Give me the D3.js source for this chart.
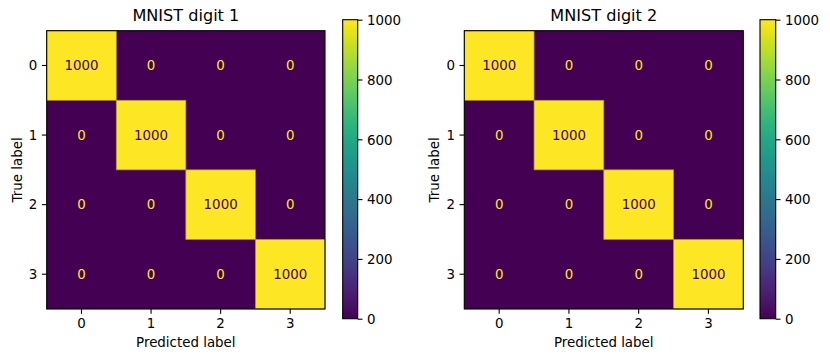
<!DOCTYPE html>
<html>
<head>
<meta charset="utf-8">
<script src="https://cdn.jsdelivr.net/npm/d3@7"></script>
<style>
  html, body { margin: 0; padding: 0; background: #fff; }
  svg { display: block; font-family: "DejaVu Sans", sans-serif; }
</style>
</head>
<body>
<svg id="chart" width="830" height="361"></svg>
<script>
// ---- data ----
const labels = ["0", "1", "2", "3"];
const titles = ["MNIST digit 1", "MNIST digit 2"];
const matrix1 = [
  [1000, 0, 0, 0],
  [0, 1000, 0, 0],
  [0, 0, 1000, 0],
  [0, 0, 0, 1000]
];
const matrix2 = [
  [1000, 0, 0, 0],
  [0, 1000, 0, 0],
  [0, 0, 1000, 0],
  [0, 0, 0, 1000]
];
const colorbarTicks = [0, 200, 400, 600, 800, 1000];
const matrices = [matrix1, matrix2];

// ---- layout ----
const svg = d3.select("#chart");
const panels = [
  { ax: [46.7, 325.0], cb: [342.7, 357.7] },
  { ax: [464.3, 743.3], cb: [760.0, 775.7] }
];
const axTop = 30.7, axBottom = 309.0;
const cbTop = 19.7, cbBottom = 318.7;
const tickFont = 13.4, titleFont = 16.1;

const color = d3.scaleSequential(d3.interpolateViridis).domain([0, 1000]);

// gradient for colorbar
const defs = svg.append("defs");
const grad = defs.append("linearGradient").attr("id", "viridisGrad")
  .attr("x1", 0).attr("y1", 1).attr("x2", 0).attr("y2", 0);
d3.range(0, 1.0001, 0.02).forEach(t => {
  grad.append("stop").attr("offset", t).attr("stop-color", d3.interpolateViridis(t));
});

panels.forEach((p, pi) => {
  const data = matrices[pi];
  const x = d3.scaleBand().domain(labels).range(p.ax).padding(0);
  const y = d3.scaleBand().domain(labels).range([axTop, axBottom]).padding(0);
  const g = svg.append("g");

  const cells = [];
  data.forEach((row, i) => row.forEach((v, j) => cells.push({ r: labels[i], c: labels[j], v })));

  // background of lowest colour so that adjacent cells show no seams
  g.append("rect")
    .attr("x", p.ax[0]).attr("y", axTop)
    .attr("width", p.ax[1] - p.ax[0]).attr("height", axBottom - axTop)
    .attr("fill", color(0));

  g.selectAll("rect.cell").data(cells.filter(d => d.v > 0)).join("rect")
    .attr("class", "cell")
    .attr("x", d => x(d.c)).attr("y", d => y(d.r))
    .attr("width", x.bandwidth()).attr("height", y.bandwidth())
    .attr("fill", d => color(d.v))
    .attr("stroke", "#a89a3a").attr("stroke-width", 0.7);

  g.selectAll("text.val").data(cells).join("text")
    .attr("class", "val")
    .attr("x", d => x(d.c) + x.bandwidth() / 2)
    .attr("y", d => y(d.r) + y.bandwidth() / 2)
    .attr("dy", "0.36em")
    .attr("text-anchor", "middle")
    .attr("font-size", tickFont)
    .attr("fill", d => d.v > 500 ? d3.interpolateViridis(0) : d3.interpolateViridis(1))
    .text(d => d.v);

  // frame
  g.append("rect")
    .attr("x", p.ax[0]).attr("y", axTop)
    .attr("width", p.ax[1] - p.ax[0]).attr("height", axBottom - axTop)
    .attr("fill", "none").attr("stroke", "#000").attr("stroke-width", 1.1);

  // axes
  const xAxis = d3.axisBottom(x).tickSize(4.8).tickPadding(4.5);
  const gx = g.append("g").attr("transform", `translate(0,${axBottom})`).call(xAxis);
  const yAxis = d3.axisLeft(y).tickSize(4.8).tickPadding(4.5);
  const gy = g.append("g").attr("transform", `translate(${p.ax[0]},0)`).call(yAxis);
  [gx, gy].forEach(a => {
    a.select(".domain").remove();
    a.selectAll(".tick line").attr("stroke", "#000").attr("stroke-width", 1.1);
    a.selectAll(".tick text").attr("font-size", tickFont).attr("fill", "#000")
      .attr("font-family", "DejaVu Sans, sans-serif");
  });
  gy.selectAll(".tick text").attr("dy", "0.36em");
  gx.selectAll(".tick text").attr("dy", "0.76em");

  // title
  g.append("text")
    .attr("x", (p.ax[0] + p.ax[1]) / 2).attr("y", 21)
    .attr("text-anchor", "middle").attr("font-size", titleFont).attr("fill", "#000")
    .text(titles[pi]);

  // axis labels
  g.append("text")
    .attr("x", (p.ax[0] + p.ax[1]) / 2).attr("y", 347)
    .attr("text-anchor", "middle").attr("font-size", tickFont).attr("fill", "#000")
    .text("Predicted label");
  const ylx = p.ax[0] - 25.2;
  g.append("text")
    .attr("transform", `translate(${ylx},${(axTop + axBottom) / 2}) rotate(-90)`)
    .attr("text-anchor", "middle").attr("font-size", tickFont).attr("fill", "#000")
    .text("True label");

  // colorbar
  const cy = d3.scaleLinear().domain([0, 1000]).range([cbBottom, cbTop]);
  g.append("rect")
    .attr("x", p.cb[0]).attr("y", cbTop)
    .attr("width", p.cb[1] - p.cb[0]).attr("height", cbBottom - cbTop)
    .attr("fill", "url(#viridisGrad)")
    .attr("stroke", "#000").attr("stroke-width", 1.1);
  const cAxis = d3.axisRight(cy).tickValues(colorbarTicks).tickFormat(d3.format("d"))
    .tickSize(4.8).tickPadding(4.5);
  const gc = g.append("g").attr("transform", `translate(${p.cb[1]},0)`).call(cAxis);
  gc.select(".domain").remove();
  gc.selectAll(".tick line").attr("stroke", "#000").attr("stroke-width", 1.1);
  gc.selectAll(".tick text").attr("font-size", tickFont).attr("fill", "#000")
    .attr("font-family", "DejaVu Sans, sans-serif").attr("dy", "0.36em");
});
</script>
</body>
</html>
